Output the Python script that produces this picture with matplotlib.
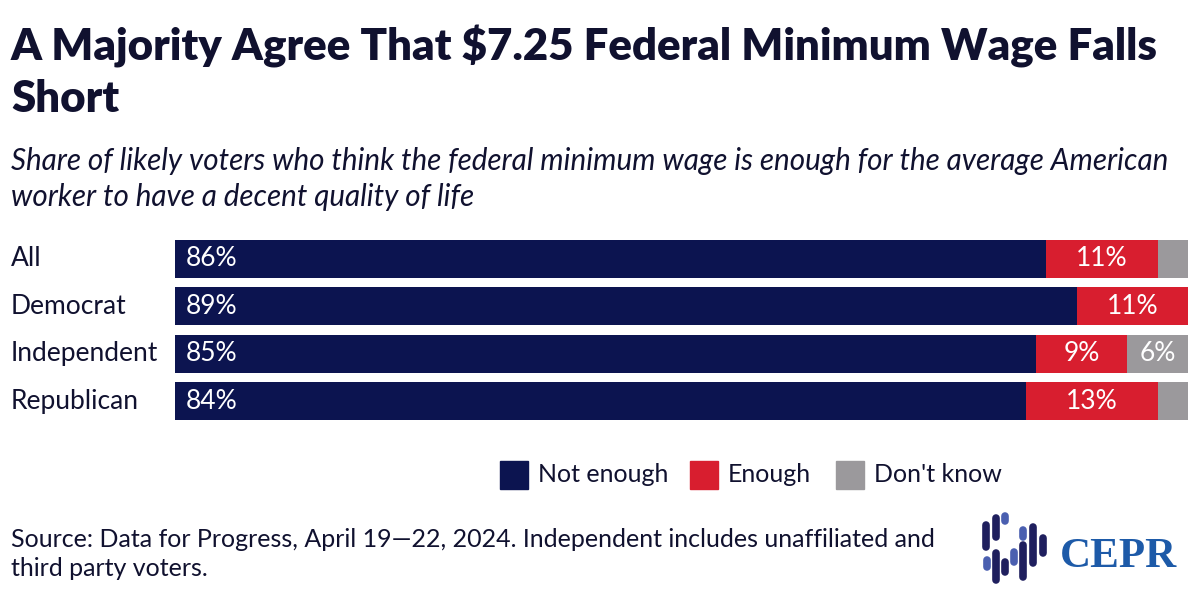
import numpy as np
import matplotlib.pyplot as plt
from matplotlib.patches import Rectangle

# data
groups = ['All', 'Democrat', 'Independent', 'Republican']
not_enough = [86, 89, 85, 84]
enough = [11, 11, 9, 13]
dont_know = [3, 0, 6, 3]
series_names = ['Not enough', 'Enough', "Don't know"]

navy = '#0c1450'
red = '#d81e2f'
gray = '#9b999c'
txt = '#10112f'

plt.rcParams['font.family'] = ['Lato', 'DejaVu Sans']

W, H = 1200, 614
fig = plt.figure(figsize=(W / 100, H / 100), dpi=100)
fig.patch.set_facecolor('white')


def fx(px):
    return px / W


def fy(py):
    return 1 - py / H


# titles
fig.text(fx(11), fy(60), 'A Majority Agree That $7.25 Federal Minimum Wage Falls',
         fontsize=31.5, fontweight='heavy', color=txt, va='baseline')
fig.text(fx(11), fy(112), 'Short', fontsize=31.5, fontweight='heavy', color=txt, va='baseline')
fig.text(fx(11), fy(170), 'Share of likely voters who think the federal minimum wage is enough for the average American',
         fontsize=21.3, style='italic', color=txt, va='baseline')
fig.text(fx(11), fy(206), 'worker to have a decent quality of life',
         fontsize=21.3, style='italic', color=txt, va='baseline')

# bars
ax = fig.add_axes([fx(175), fy(420), fx(1188) - fx(175), (420 - 240) / H])
y = np.arange(len(groups))
ne = np.array(not_enough)
en = np.array(enough)
dk = np.array(dont_know)
ax.barh(y, ne, height=0.8, color=navy)
ax.barh(y, en, left=ne, height=0.8, color=red)
ax.barh(y, dk, left=ne + en, height=0.8, color=gray)
ax.set_xlim(0, 100)
ax.set_ylim(len(groups) - 0.6, -0.4)
ax.axis('off')

for i in range(len(groups)):
    ax.text(1.1, y[i], f'{ne[i]}%', color='white', fontsize=19, va='center', ha='left')
    ax.text(ne[i] + en[i] / 2, y[i], f'{en[i]}%', color='white', fontsize=19, va='center', ha='center')
    if dk[i] >= 5:
        ax.text(ne[i] + en[i] + dk[i] / 2, y[i], f'{dk[i]}%', color='white', fontsize=19,
                va='center', ha='center')
    fig.text(fx(11), fy(259 + 47.5 * i), groups[i], fontsize=19, color=txt, va='center')

# legend
leg_x = [500, 690, 836]
for lx, name, c in zip(leg_x, series_names, [navy, red, gray]):
    fig.patches.append(Rectangle((fx(lx), fy(489)), fx(28), 28 / H, color=c,
                                 transform=fig.transFigure, figure=fig))
    fig.text(fx(lx + 38), fy(475), name, fontsize=18, color=txt, va='center')

# source
fig.text(fx(11), fy(547), 'Source: Data for Progress, April 19\u201422, 2024. Independent includes unaffiliated and',
         fontsize=18, color=txt, va='baseline')
fig.text(fx(11), fy(576), 'third party voters.', fontsize=18, color=txt, va='baseline')

# CEPR logo
dark = '#1f1f5e'
light = '#4a5fb0'
segs = [
    (977, 538, 538, light), (986, 525, 547, dark), (996, 518, 537, dark),
    (1005, 516, 521, light), (1014, 517, 517, light), (987, 560, 567, light),
    (996, 553, 580, dark), (1005, 562, 572, dark), (1014, 552, 562, light),
    (1023, 530, 537, light), (1023, 545, 577, dark), (1033, 527, 563, dark),
    (1043, 538, 553, dark),
]
for sx, y0, y1, c in segs:
    fig.add_artist(plt.Line2D([fx(sx), fx(sx)], [fy(y0), fy(y1 + 0.01)], lw=5.5,
                              color=c, solid_capstyle='round', transform=fig.transFigure))
fig.text(fx(1060), fy(567), 'CEPR', fontsize=31, fontweight='bold', color='#1d5aa8',
         family=['Liberation Serif', 'DejaVu Serif'], va='baseline')

fig.savefig('out.png', dpi=100)
